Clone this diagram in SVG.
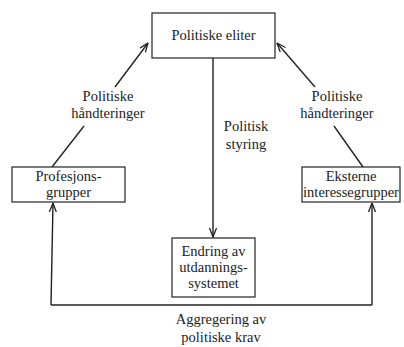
<svg xmlns="http://www.w3.org/2000/svg" width="404" height="347" viewBox="0 0 404 347">
<style>
.box{fill:#fff;stroke:#222;stroke-width:1.2}
.ln{fill:none;stroke:#222;stroke-width:1.4}
text{font-family:"Liberation Serif",serif;font-size:14.5px;fill:#222;text-anchor:middle}
</style>
<defs>
<marker id="ah" viewBox="0 0 10 8" refX="9.5" refY="4" markerWidth="10" markerHeight="8" markerUnits="userSpaceOnUse" orient="auto">
<path d="M0.5,0.5 L9.5,4 L0.5,7.5" fill="none" stroke="#222" stroke-width="1.3"/>
</marker>
</defs>
<rect width="404" height="347" fill="#fff"/>
<g id="connectors">
<line class="ln" x1="213" y1="58" x2="213" y2="237" marker-end="url(#ah)"/>
<line class="ln" x1="52" y1="167" x2="84" y2="126"/>
<line class="ln" x1="115" y1="87" x2="148" y2="43" marker-end="url(#ah)"/>
<line class="ln" x1="363" y1="167" x2="334" y2="126"/>
<line class="ln" x1="315" y1="87" x2="277" y2="43" marker-end="url(#ah)"/>
<polyline class="ln" points="51,305 372,305"/>
<line class="ln" x1="51" y1="305" x2="53" y2="203" marker-end="url(#ah)"/>
<line class="ln" x1="372" y1="305" x2="372" y2="203" marker-end="url(#ah)"/>
<text x="108" y="101">Politiske</text>
<text x="108" y="118">håndteringer</text>
<text x="337" y="101">Politiske</text>
<text x="337" y="118">håndteringer</text>
<text x="246" y="131">Politisk</text>
<text x="246" y="149">styring</text>
<text x="221" y="324">Aggregering av</text>
<text x="221" y="342">politiske krav</text>
</g>
<g id="politiske-eliter">
<rect class="box" x="152" y="13" width="123" height="45"/>
<text x="213.5" y="40">Politiske eliter</text>
</g>
<g id="profesjonsgrupper">
<rect class="box" x="12" y="167" width="113" height="35"/>
<text x="68.5" y="181">Profesjons-</text>
<text x="68.5" y="197">grupper</text>
</g>
<g id="eksterne">
<rect class="box" x="302" y="167" width="98" height="35"/>
<text x="351" y="181">Eksterne</text>
<text x="351" y="197">interessegrupper</text>
</g>
<g id="endring">
<rect class="box" x="172" y="238" width="83" height="59"/>
<text x="213.5" y="256">Endring av</text>
<text x="213.5" y="272">utdannings-</text>
<text x="213.5" y="288">systemet</text>
</g>
</svg>
